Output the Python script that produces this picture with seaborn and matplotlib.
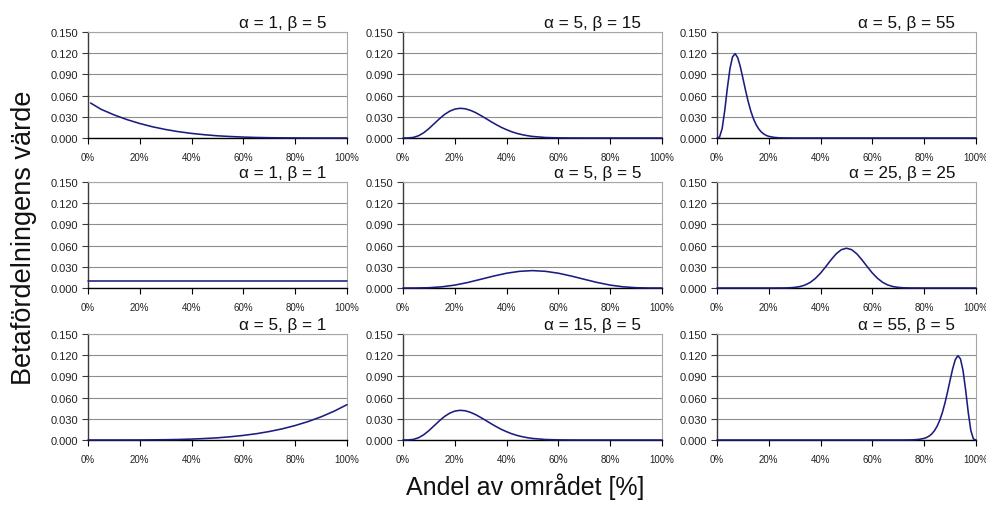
import matplotlib
matplotlib.use("Agg")
import matplotlib.pyplot as plt
import matplotlib.transforms as mtransforms
from matplotlib.ticker import FuncFormatter, FixedLocator
import pandas as pd
import seaborn as sns

# Panel titles (row by row)
titles = [
    "α = 1, β = 5", "α = 5, β = 15", "α = 5, β = 55",
    "α = 1, β = 1", "α = 5, β = 5", "α = 25, β = 25",
    "α = 5, β = 1", "α = 15, β = 5", "α = 55, β = 5",
]

# Share of the area [%] and the beta distribution value at each point
x_a1_b5 = [1, 5, 10, 15, 20, 25, 30, 35, 40, 45, 50, 55, 60, 65, 70, 75, 80, 85, 90, 100]
y_a1_b5 = [0.0495, 0.0407, 0.0328, 0.0261, 0.0205, 0.0158, 0.0120, 0.0089, 0.0065, 0.0046,
           0.0031, 0.0021, 0.0013, 0.00075, 0.0004, 0.0002, 0.0001, 0.00003, 0.0, 0.0]

x_a5_b15 = [0, 2, 4, 6, 8, 10, 12, 14, 16, 18, 20, 22, 24, 26, 28, 30, 32, 34, 36, 38, 40,
            42, 44, 46, 48, 50, 55, 60, 65, 70, 100]
y_a5_b15 = [0.0, 0.00007, 0.00084, 0.0032, 0.0074, 0.0133, 0.0201, 0.0270, 0.0332, 0.0379,
            0.0409, 0.0420, 0.0414, 0.0392, 0.0360, 0.0319, 0.0276, 0.0231, 0.0189, 0.0150,
            0.0117, 0.0088, 0.0065, 0.0047, 0.0033, 0.0022, 0.0007, 0.0002, 0.00005, 0.00001, 0.0]

x_a5_b55 = [0, 1, 2, 3, 4, 5, 6, 7, 8, 9, 10, 11, 12, 13, 14, 15, 16, 17, 18, 19, 20,
            22, 24, 26, 30, 100]
y_a5_b55 = [0.0, 0.0015, 0.0135, 0.0392, 0.0707, 0.0981, 0.1148, 0.1194, 0.1136, 0.1009,
            0.0846, 0.0678, 0.0521, 0.0387, 0.0279, 0.0196, 0.0134, 0.0089, 0.0058, 0.0037,
            0.0023, 0.0009, 0.0003, 0.0001, 0.00001, 0.0]

x_a1_b1 = [0, 100]
y_a1_b1 = [0.0100, 0.0100]

x_a5_b5 = [0, 5, 10, 15, 20, 25, 30, 35, 40, 45, 50, 55, 60, 65, 70, 75, 80, 85, 90, 95, 100]
y_a5_b5 = [0.0, 0.00003, 0.0004, 0.0017, 0.0041, 0.0078, 0.0123, 0.0169, 0.0209, 0.0236,
           0.0246, 0.0236, 0.0209, 0.0169, 0.0123, 0.0078, 0.0041, 0.0017, 0.0004, 0.00003, 0.0]

x_a25_b25 = [0, 20, 26, 28, 30, 32, 34, 36, 38, 40, 42, 44, 46, 48, 50, 52, 54, 56, 58, 60,
             62, 64, 66, 68, 70, 72, 74, 80, 100]
y_a25_b25 = [0.0, 0.0, 0.0001, 0.0003, 0.00086, 0.0020, 0.0042, 0.0079, 0.0136, 0.0211,
             0.0302, 0.0397, 0.0483, 0.0542, 0.0563, 0.0542, 0.0483, 0.0397, 0.0302, 0.0211,
             0.0136, 0.0079, 0.0042, 0.0020, 0.00086, 0.0003, 0.0001, 0.0, 0.0]

x_a5_b1 = [0, 10, 20, 30, 35, 40, 45, 50, 55, 60, 65, 70, 75, 80, 85, 90, 95, 100]
y_a5_b1 = [0.0, 0.000005, 0.00008, 0.0004, 0.00075, 0.0013, 0.0021, 0.0031, 0.0046, 0.0065,
           0.0089, 0.0120, 0.0158, 0.0205, 0.0261, 0.0328, 0.0407, 0.0500]

x_a15_b5 = [0, 2, 4, 6, 8, 10, 12, 14, 16, 18, 20, 22, 24, 26, 28, 30, 32, 34, 36, 38, 40,
            42, 44, 46, 48, 50, 55, 60, 65, 70, 100]
y_a15_b5 = [0.0, 0.00007, 0.00084, 0.0032, 0.0074, 0.0133, 0.0201, 0.0270, 0.0332, 0.0379,
            0.0409, 0.0420, 0.0414, 0.0392, 0.0360, 0.0319, 0.0276, 0.0231, 0.0189, 0.0150,
            0.0117, 0.0088, 0.0065, 0.0047, 0.0033, 0.0022, 0.0007, 0.0002, 0.00005, 0.00001, 0.0]

x_a55_b5 = [0, 70, 74, 76, 78, 80, 81, 82, 83, 84, 85, 86, 87, 88, 89, 90, 91, 92, 93, 94,
            95, 96, 97, 98, 99, 100]
y_a55_b5 = [0.0, 0.00001, 0.0001, 0.0003, 0.0009, 0.0023, 0.0037, 0.0058, 0.0089, 0.0134,
            0.0196, 0.0279, 0.0387, 0.0521, 0.0678, 0.0846, 0.1009, 0.1136, 0.1194, 0.1148,
            0.0981, 0.0707, 0.0392, 0.0135, 0.0015, 0.0]

series = [
    (x_a1_b5, y_a1_b5), (x_a5_b15, y_a5_b15), (x_a5_b55, y_a5_b55),
    (x_a1_b1, y_a1_b1), (x_a5_b5, y_a5_b5), (x_a25_b25, y_a25_b25),
    (x_a5_b1, y_a5_b1), (x_a15_b5, y_a15_b5), (x_a55_b5, y_a55_b5),
]

y_ticks = [0.0, 0.03, 0.06, 0.09, 0.12, 0.15]
x_ticks = [0, 20, 40, 60, 80, 100]

frames = []
for title, (xs, ys) in zip(titles, series):
    frames.append(pd.DataFrame({"panel": title, "andel": xs, "varde": ys}))
data = pd.concat(frames, ignore_index=True)

sns.set_theme(style="white")
plt.rcParams["font.family"] = ["Liberation Sans", "DejaVu Sans"]

W, H = 987, 510
fig = plt.figure(figsize=(W / 100, H / 100), dpi=100)

col_left = [88, 403, 717]
row_top = [33, 183, 335]
ax_w, ax_h = 259, 106

line_color = "#1c1c80"
grid_color = "#8e8e8e"

for i, title in enumerate(titles):
    r, c = divmod(i, 3)
    left = col_left[c] / W
    bottom = 1 - (row_top[r] + ax_h) / H
    ax = fig.add_axes([left, bottom, ax_w / W, ax_h / H])
    sub = data[data["panel"] == title]
    sns.lineplot(data=sub, x="andel", y="varde", ax=ax, color=line_color,
                 linewidth=1.15, estimator=None, sort=False, zorder=3, clip_on=False)
    ax.set_xlim(0, 100)
    ax.set_ylim(0, 0.15)
    ax.yaxis.set_major_locator(FixedLocator(y_ticks))
    ax.xaxis.set_major_locator(FixedLocator(x_ticks))
    ax.yaxis.set_major_formatter(FuncFormatter(lambda v, p: f"{v:.3f}"))
    ax.xaxis.set_major_formatter(FuncFormatter(lambda v, p: f"{v:.0f}%"))
    ax.set_xlabel("")
    ax.set_ylabel("")
    ax.grid(axis="y", color=grid_color, linewidth=0.8)
    ax.grid(axis="x", visible=False)
    ax.set_axisbelow(True)
    for side in ("top", "right"):
        ax.spines[side].set_color("#a6a6a6")
        ax.spines[side].set_linewidth(0.8)
    ax.spines["left"].set_color("#3a3a3a")
    ax.spines["left"].set_linewidth(1.0)
    ax.spines["bottom"].set_color("#000000")
    ax.spines["bottom"].set_linewidth(1.0)
    ax.tick_params(axis="y", which="major", direction="out", length=4, width=0.8,
                   color="#3a3a3a", labelsize=8, labelcolor="#222222", pad=3, left=True)
    ax.tick_params(axis="x", which="major", direction="out", length=4, width=0.8,
                   color="#000000", labelsize=7, labelcolor="#222222", pad=6, bottom=True)
    offset = mtransforms.ScaledTranslation(0, 5 / 100, fig.dpi_scale_trans)
    ax.text(1 - 21 / ax_w, 1.0, title, transform=ax.transAxes + offset,
            ha="right", va="baseline", fontsize=12.3, color="#111111")

fig.text(24 / W, 1 - 238 / H, "Betafördelningens värde", rotation=90,
         ha="center", va="center", fontsize=19.5, color="#111111")
fig.text(525 / W, 1 - 487 / H, "Andel av området [%]",
         ha="center", va="center", fontsize=18, color="#111111")

fig.savefig("out.png", dpi=100)
